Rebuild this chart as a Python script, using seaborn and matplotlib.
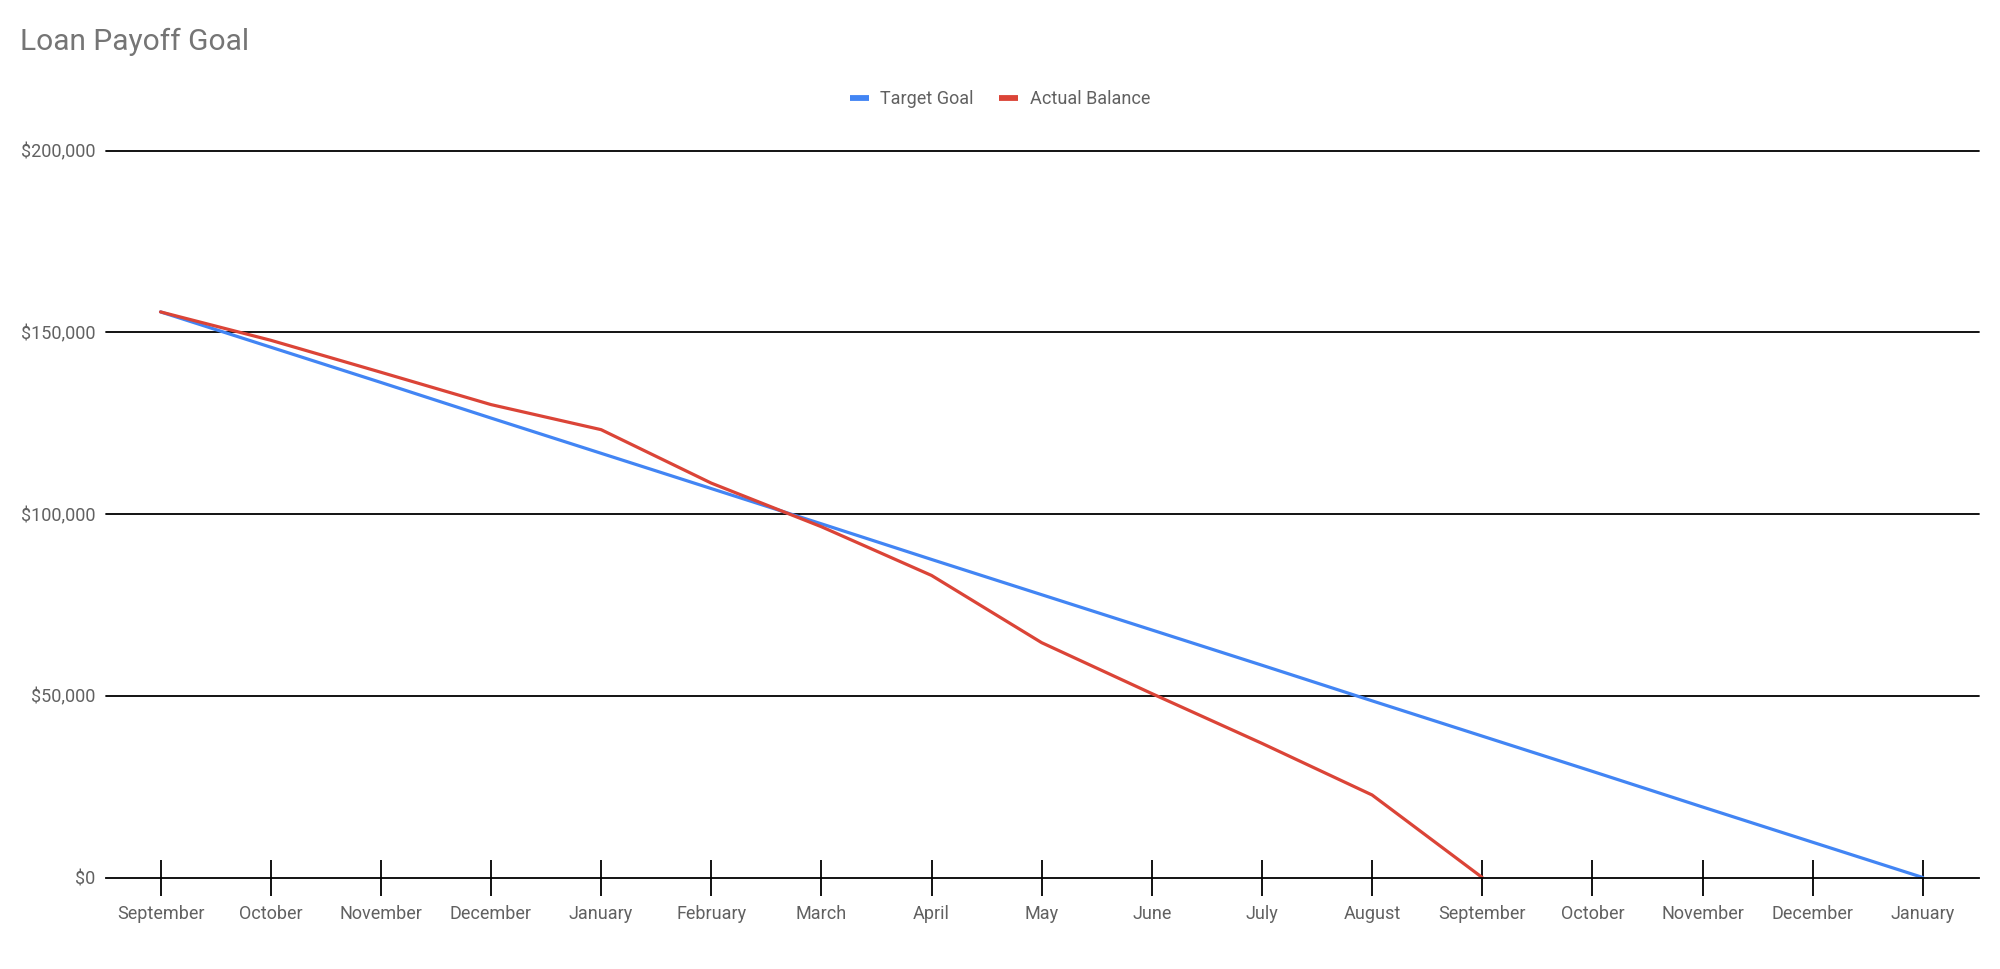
import matplotlib
matplotlib.use("Agg")
import matplotlib.pyplot as plt
from matplotlib.lines import Line2D
from matplotlib.ticker import FuncFormatter
import numpy as np
import pandas as pd
import seaborn as sns

# ---- data ----
months = ["September", "October", "November", "December", "January", "February",
          "March", "April", "May", "June", "July", "August", "September",
          "October", "November", "December", "January"]
target_goal = [155600, 145900, 136200, 126400, 116700, 107000, 97300, 87500,
               77800, 68100, 58400, 48600, 38900, 29200, 19400, 9700, 0]
actual_balance = [155600, 147800, 139000, 130100, 123200, 108500, 96500,
                  83100, 64600, 50600, 36900, 22700, 0]
series_names = ["Target Goal", "Actual Balance"]
series_colors = ["#4285F4", "#DB4437"]
y_ticks = [0, 50000, 100000, 150000, 200000]

rows = []
for i, v in enumerate(target_goal):
    rows.append({"month": i, "value": v, "series": series_names[0]})
for i, v in enumerate(actual_balance):
    rows.append({"month": i, "value": v, "series": series_names[1]})
df = pd.DataFrame(rows)

sns.set_theme(style="white")
plt.rcParams["font.family"] = ["Roboto", "DejaVu Sans"]

W, H = 2000, 969
fig = plt.figure(figsize=(W / 100, H / 100), dpi=100)
left, right = 106 / W, 1979 / W
bottom, top = 1 - 877.5 / H, 1 - 150.5 / H
ax = fig.add_axes([left, bottom, right - left, top - bottom])

palette = dict(zip(series_names, series_colors))
sns.lineplot(data=df, x="month", y="value", hue="series", palette=palette,
             hue_order=series_names, linewidth=2.3, ax=ax, legend=False,
             estimator=None, sort=False)

ax.set_xlim(-0.495, len(months) - 1 + 0.51)
ax.set_ylim(0, 200000)
ax.set_xticks(range(len(months)))
ax.set_xticklabels(months)
ax.set_yticks(y_ticks)
ax.yaxis.set_major_formatter(FuncFormatter(lambda v, p: f"${v:,.0f}"))
ax.set_xlabel("")
ax.set_ylabel("")

text_color = "#616161"
ax.grid(False)
for yv in y_ticks[1:]:
    ax.axhline(yv, color="black", lw=1.3, zorder=0.5, clip_on=False)

for s in ["top", "right", "left"]:
    ax.spines[s].set_visible(False)
ax.spines["bottom"].set_color("black")
ax.spines["bottom"].set_linewidth(1.3)

ax.tick_params(axis="x", direction="inout", length=26, width=1.3, color="black",
               labelsize=13, labelcolor=text_color, pad=6.5, bottom=True)
ax.tick_params(axis="y", length=0, labelsize=13, labelcolor=text_color, pad=7.5)

fig.text(20 / W, 1 - 42 / H, "Loan Payoff Goal", fontsize=21.5, color="#757575",
         ha="left", va="center")

handles = [Line2D([0], [0], color=c, lw=4.2, solid_capstyle="butt")
           for c in series_colors]
fig.legend(handles, series_names, loc="center", bbox_to_anchor=(0.5, 1 - 99 / H),
           ncol=2, frameon=False, fontsize=13, handlelength=1.05,
           handletextpad=0.65, columnspacing=1.4, labelcolor=text_color)

fig.savefig("out.png", dpi=100, facecolor="white")
